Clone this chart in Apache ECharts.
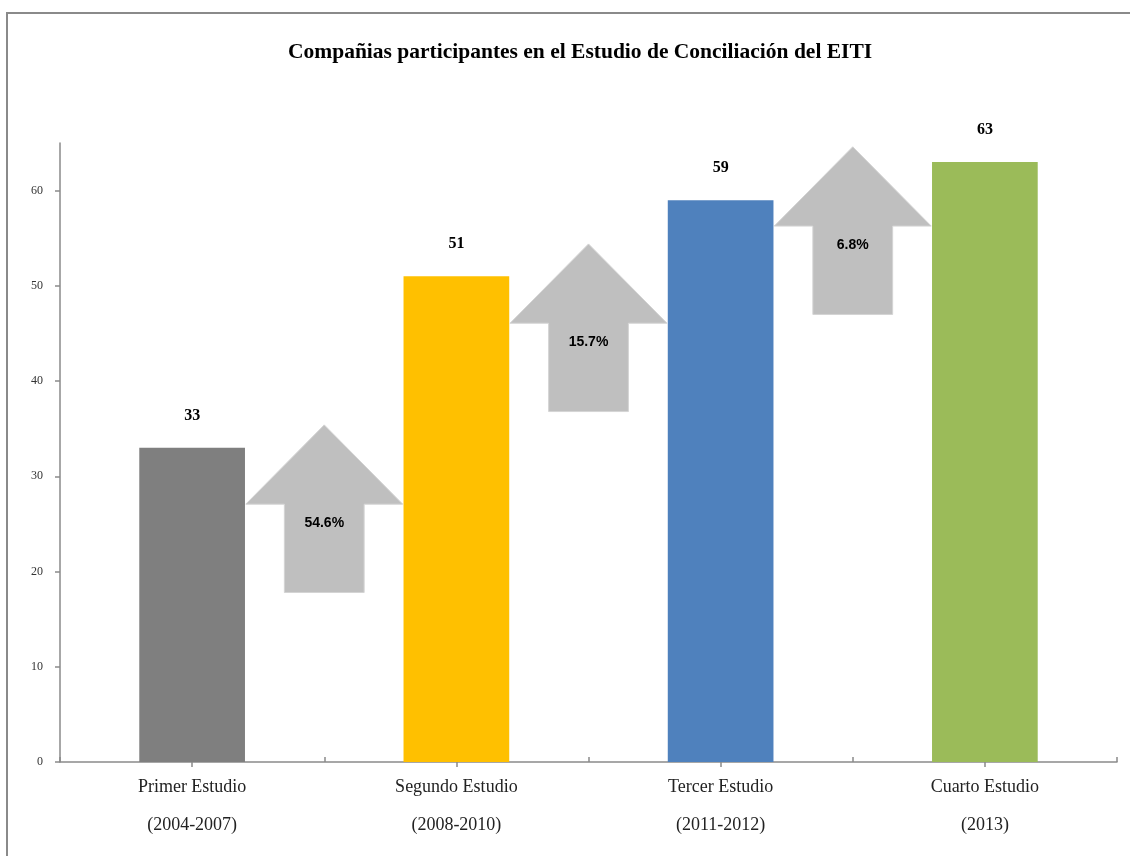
<!DOCTYPE html>
<html>
<head>
<meta charset="utf-8">
<script src="https://cdn.jsdelivr.net/npm/echarts@6/dist/echarts.min.js"></script>
<style>
html,body{margin:0;padding:0;background:#fff;}
#main{width:1130px;height:856px;}
</style>
</head>
<body>
<div id="main"></div>
<script>
const titleText = 'Compañias participantes en el Estudio de Conciliación del EITI';
const categories = ['Primer Estudio\n(2004-2007)', 'Segundo Estudio\n(2008-2010)', 'Tercer Estudio\n(2011-2012)', 'Cuarto Estudio\n(2013)'];
const companies = [33, 51, 59, 63];
const barColors = ['#7f7f7f', '#ffc000', '#4f81bd', '#9bbb59'];
const arrowLabels = ['54.6%', '15.7%', '6.8%'];
const arrowTop = [35.4, 54.4, 64.6];
const arrowBottom = [17.8, 36.8, 47.0];
const yTicks = [0, 10, 20, 30, 40, 50, 60];

const serif = '"Liberation Serif", "DejaVu Serif", serif';
const chart = echarts.init(document.getElementById('main'));

const arrowData = arrowLabels.map((l, i) => [i, arrowTop[i], arrowBottom[i], l]);

chart.setOption({
  animation: false,
  backgroundColor: '#fff',
  title: {
    text: titleText,
    left: 283,
    top: 36,
    textStyle: { fontFamily: serif, fontSize: 21.5, fontWeight: 'bold', color: '#000' }
  },
  graphic: [{
    type: 'rect', x: 7, y: 13, silent: true,
    shape: { x: 0, y: 0, width: 1300, height: 1000 },
    style: { fill: 'none', stroke: '#8a8a8a', lineWidth: 2 }
  }],
  grid: { left: 60, right: 13, top: 143, bottom: 94, containLabel: false },
  xAxis: [{
    type: 'category',
    data: categories,
    position: 'bottom',
    axisLine: { lineStyle: { color: '#8a8a8a', width: 1.5 } },
    axisTick: { show: true, inside: true, length: 5, lineStyle: { color: '#8a8a8a', width: 1.5 } },
    axisLabel: { fontFamily: serif, fontSize: 18, color: '#222', lineHeight: 38, margin: 6 }
  }, {
    type: 'category',
    data: categories,
    position: 'bottom',
    axisLine: { show: false },
    axisTick: { show: true, alignWithLabel: true, inside: false, length: 5, lineStyle: { color: '#8a8a8a', width: 1.5 } },
    axisLabel: { show: false }
  }],
  yAxis: {
    type: 'value',
    min: 0, max: 65, interval: 10,
    splitLine: { show: false },
    axisLine: { show: true, lineStyle: { color: '#8a8a8a', width: 1.5 } },
    axisTick: { show: true, length: 5, customValues: yTicks, lineStyle: { color: '#8a8a8a', width: 1.5 } },
    axisLabel: { customValues: yTicks, fontFamily: serif, fontSize: 12, color: '#333', margin: 17 }
  },
  series: [{
    type: 'bar',
    xAxisIndex: 0,
    barWidth: '40%',
    data: companies.map((v, i) => ({ value: v, itemStyle: { color: barColors[i] } })),
    label: {
      show: true, position: 'top', distance: 24,
      fontFamily: serif, fontSize: 16, fontWeight: 'bold', color: '#000'
    },
    z: 2
  }, {
    type: 'custom',
    xAxisIndex: 0,
    data: arrowData,
    z: 3,
    renderItem: function (params, api) {
      const i = api.value(0);
      const top = api.coord([i, api.value(1)]);
      const bot = api.coord([i, api.value(2)]);
      const band = api.size([1, 0])[0];
      const x = top[0] + band / 2;
      const hw = band * 0.297, sw = band * 0.151, hh = band * 0.3;
      const y0 = top[1], y1 = top[1] + hh, y2 = bot[1];
      return {
        type: 'group',
        children: [{
          type: 'polygon',
          shape: { points: [[x, y0], [x + hw, y1], [x + sw, y1], [x + sw, y2], [x - sw, y2], [x - sw, y1], [x - hw, y1]] },
          style: { fill: '#bfbfbf', stroke: '#d4d4d4', lineWidth: 1 }
        }, {
          type: 'text',
          x: x, y: y1 + 19,
          style: {
            text: arrowData[params.dataIndex][3],
            align: 'center', verticalAlign: 'middle',
            font: 'bold 14px "Liberation Sans", Arial, sans-serif',
            fill: '#000'
          }
        }]
      };
    }
  }]
});
</script>
</body>
</html>
